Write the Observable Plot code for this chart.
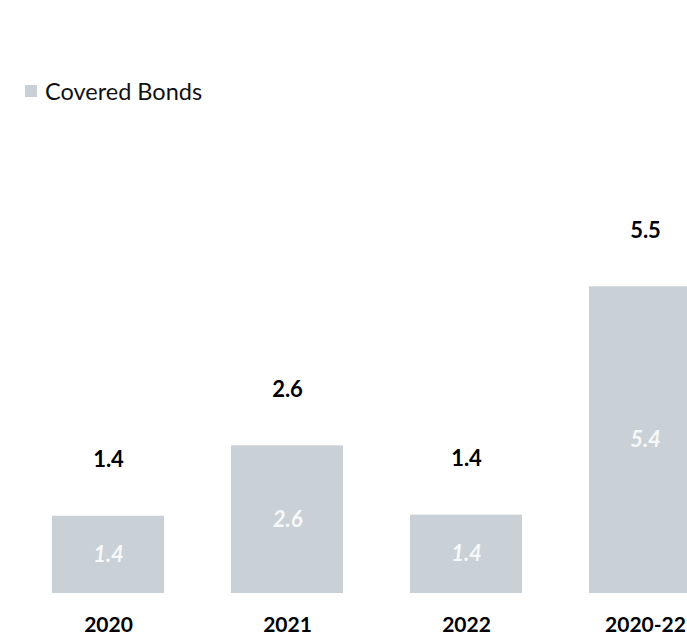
<!DOCTYPE html>
<html>
<head>
<meta charset="utf-8">
<script src="https://cdn.jsdelivr.net/npm/d3@7"></script>
<script src="https://cdn.jsdelivr.net/npm/@observablehq/plot@0.6"></script>
<style>
  html, body { margin: 0; padding: 0; background: #fff; overflow: hidden; width: 687px; height: 638px; }
  #legend { height: 130px; position: relative; font-family: Lato, "Open Sans", sans-serif; }
  #legend .item { position: absolute; left: 25px; top: 76px; display: flex; align-items: center; font-size: 23.5px; color: #111; line-height: 30px; }
  #legend .sw { width: 12px; height: 12px; background: #c9d0d6; margin-right: 8px; }
  #chart svg { display: block; overflow: hidden; }
</style>
</head>
<body>
<div id="legend"><div class="item"><span class="sw"></span><span>Covered Bonds</span></div></div>
<div id="chart"></div>
<script>
const periods = ["2020", "2021", "2022", "2020-22"];
const coveredBonds = [1.36, 2.6, 1.38, 5.4];
const totals = [1.4, 2.6, 1.4, 5.5];
const barColor = "#c9d0d6";

const data = periods.map((p, i) => ({period: p, value: coveredBonds[i], total: totals[i]}));

const chart = Plot.plot({
  width: 687,
  height: 508,
  marginTop: 20,
  marginBottom: 45,
  marginLeft: 0,
  marginRight: 0,
  style: {fontFamily: "Lato, 'Open Sans', sans-serif", background: "#fff"},
  x: {domain: periods, range: [-15, 768], padding: 0.374, axis: null},
  y: {domain: [0, 7.8], axis: null},
  marks: [
    Plot.barY(data, {x: "period", y: "value", fill: barColor}),
    Plot.text(data, {x: "period", y: d => d.value / 2, text: d => d.value.toFixed(1), fill: "#f7f8f9", fontSize: 22, fontStyle: "italic", fontWeight: "bold"}),
    Plot.text(data, {x: "period", y: "value", text: d => d.total.toFixed(1), dy: -56, fill: "#000", fontSize: 22, fontWeight: "bold"}),
    Plot.axisX({domain: periods, tickSize: 0, tickPadding: 24, fontSize: 21, fontWeight: "bold", color: "#000", label: null})
  ]
});
document.getElementById("chart").appendChild(chart);
</script>
</body>
</html>
